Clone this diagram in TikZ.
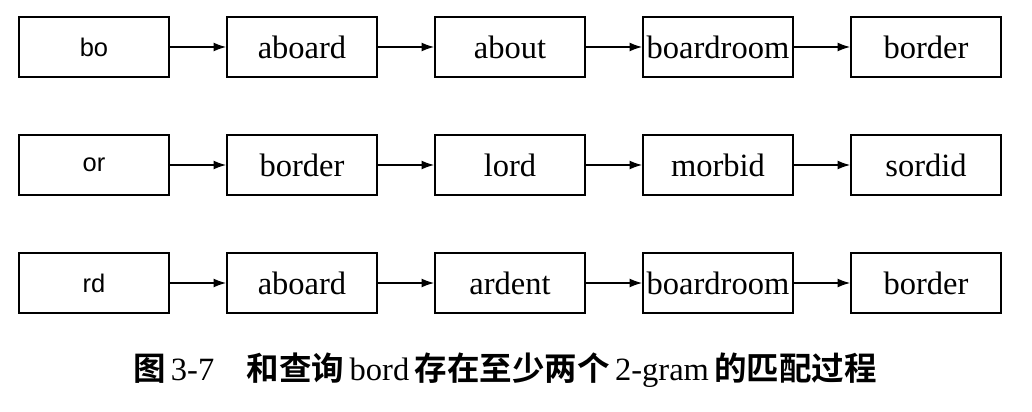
\documentclass[tikz,border=0pt]{standalone}
\usepackage{fontspec}
\setmainfont{Liberation Serif}
\newfontfamily\arialf{Liberation Sans}
\newfontfamily\cjk{Noto Sans CJK SC Bold}
\usetikzlibrary{arrows.meta}
\begin{document}
\begin{tikzpicture}[x=0.02cm,y=-0.02cm,
  wbox/.style={draw,line width=1.1pt,minimum width=152*0.02cm-1.1pt,minimum height=62*0.02cm-1.1pt,inner sep=0pt,font=\fontsize{18.5}{20}\selectfont},
  kbox/.style={wbox,font=\arialf\fontsize{14.5}{16}\selectfont},
  conn/.style={-{Latex[length=7pt,width=5pt]},line width=0.6pt}]
\useasboundingbox (0,0) rectangle (1032,412);
\foreach \r/\y in {1/47,2/165,3/283}{
  \foreach \c/\x in {1/94,2/302,3/510,4/718,5/926}{
    \coordinate (p\r\c) at (\x,\y);
  }
}
\node[kbox] (n11) at (p11) {bo};
\node[wbox] (n12) at (p12) {aboard};
\node[wbox] (n13) at (p13) {about};
\node[wbox] (n14) at (p14) {boardroom};
\node[wbox] (n15) at (p15) {border};
\node[kbox] (n21) at (p21) {or};
\node[wbox] (n22) at (p22) {border};
\node[wbox] (n23) at (p23) {lord};
\node[wbox] (n24) at (p24) {morbid};
\node[wbox] (n25) at (p25) {sordid};
\node[kbox] (n31) at (p31) {rd};
\node[wbox] (n32) at (p32) {aboard};
\node[wbox] (n33) at (p33) {ardent};
\node[wbox] (n34) at (p34) {boardroom};
\node[wbox] (n35) at (p35) {border};
\foreach \r in {1,2,3}{
  \draw[conn] (n\r1) -- (n\r2);
  \draw[conn] (n\r2) -- (n\r3);
  \draw[conn] (n\r3) -- (n\r4);
  \draw[conn] (n\r4) -- (n\r5);
}
\node[font=\fontsize{18.5}{20}\selectfont,inner sep=0pt] (cap) at (505,370) {{\cjk 图}\,3-7\quad{\cjk 和查询}\,bord\,{\cjk 存在至少两个}\,2-gram\,{\cjk 的匹配过程}};
\end{tikzpicture}
\end{document}
